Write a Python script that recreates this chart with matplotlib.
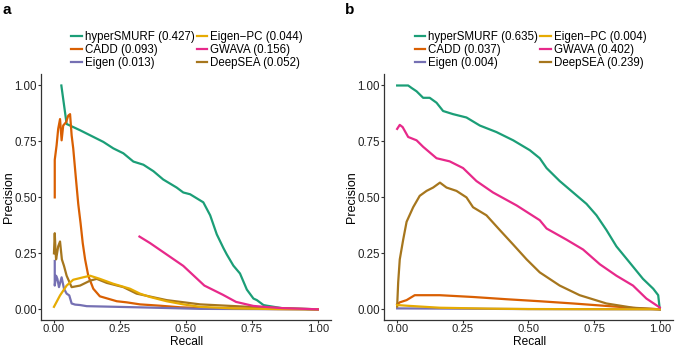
import matplotlib
matplotlib.use("Agg")
import matplotlib.pyplot as plt

# ---------------- data: panel a ----------------
a_hyper_recall = [0.028, 0.048, 0.099, 0.187, 0.225, 0.263, 0.301, 0.339, 0.377, 0.414, 0.465, 0.490, 0.516,
                  0.566, 0.592, 0.617, 0.642, 0.655, 0.680, 0.705, 0.731, 0.756, 0.769, 0.794, 0.807, 0.870, 1.0]
a_hyper_prec = [1.00, 0.828, 0.800, 0.748, 0.719, 0.697, 0.660, 0.646, 0.617, 0.580, 0.544, 0.522, 0.514,
                0.478, 0.420, 0.335, 0.274, 0.245, 0.195, 0.160, 0.088, 0.048, 0.041, 0.019, 0.016, 0.004, 0.0]

a_cadd_recall = [0.003, 0.003, 0.010, 0.016, 0.023, 0.029, 0.035, 0.046, 0.054, 0.061, 0.067, 0.073, 0.083,
                 0.092, 0.101, 0.109, 0.118, 0.130, 0.149, 0.174, 0.238, 0.276, 0.326, 0.402, 0.478, 0.555, 0.75, 1.0]
a_cadd_prec = [0.50, 0.668, 0.733, 0.806, 0.850, 0.755, 0.821, 0.836, 0.865, 0.872, 0.777, 0.719, 0.587,
               0.471, 0.383, 0.296, 0.223, 0.150, 0.092, 0.058, 0.036, 0.031, 0.022, 0.016, 0.009, 0.006, 0.002, 0.0]

a_eigen_recall = [0.003, 0.003, 0.008, 0.013, 0.019, 0.029, 0.038, 0.048, 0.058, 0.067, 0.080, 0.099, 0.124,
                  0.200, 0.35, 0.554, 0.75, 1.0]
a_eigen_prec = [0.216, 0.106, 0.15, 0.136, 0.099, 0.143, 0.092, 0.070, 0.062, 0.026, 0.021, 0.019, 0.014,
                0.012, 0.008, 0.002, 0.001, 0.0]

a_eigenpc_recall = [0.0, 0.023, 0.048, 0.073, 0.111, 0.137, 0.174, 0.225, 0.288, 0.326, 0.364, 0.427, 0.490,
                    0.554, 0.680, 0.85, 1.0]
a_eigenpc_prec = [0.011, 0.062, 0.106, 0.132, 0.143, 0.150, 0.136, 0.114, 0.092, 0.070, 0.055, 0.036, 0.022,
                  0.011, 0.004, 0.001, 0.0]

a_gwava_recall = [0.324, 0.364, 0.490, 0.570, 0.640, 0.690, 0.756, 0.807, 0.870, 1.0]
a_gwava_prec = [0.325, 0.296, 0.194, 0.106, 0.065, 0.033, 0.015, 0.010, 0.005, 0.0]

a_deepsea_recall = [0.0, 0.003, 0.006, 0.008, 0.016, 0.023, 0.030, 0.038, 0.048, 0.067, 0.099, 0.137, 0.162,
                    0.200, 0.263, 0.301, 0.313, 0.427, 0.554, 0.807, 1.0]
a_deepsea_prec = [0.25, 0.34, 0.26, 0.223, 0.281, 0.303, 0.223, 0.194, 0.150, 0.099, 0.106, 0.128, 0.136,
                  0.118, 0.099, 0.077, 0.070, 0.041, 0.022, 0.007, 0.0]

# ---------------- data: panel b ----------------
b_hyper_recall = [0.0, 0.042, 0.055, 0.074, 0.099, 0.124, 0.150, 0.175, 0.213, 0.264, 0.315, 0.378, 0.442,
                  0.505, 0.543, 0.569, 0.619, 0.670, 0.721, 0.759, 0.797, 0.835, 0.886, 0.936, 0.975, 0.994, 1.0]
b_hyper_prec = [1.0, 1.0, 0.989, 0.974, 0.945, 0.945, 0.923, 0.886, 0.872, 0.857, 0.821, 0.792, 0.755,
                0.711, 0.675, 0.631, 0.573, 0.522, 0.471, 0.420, 0.354, 0.281, 0.208, 0.136, 0.092, 0.063, 0.0]

b_cadd_recall = [0.0, 0.010, 0.036, 0.067, 0.162, 0.289, 0.416, 0.543, 0.670, 0.797, 0.924, 1.0]
b_cadd_prec = [0.022, 0.031, 0.041, 0.063, 0.063, 0.055, 0.045, 0.036, 0.026, 0.015, 0.004, 0.0]

b_eigen_recall = [0.0, 0.2, 0.5, 1.0]
b_eigen_prec = [0.004, 0.003, 0.001, 0.0]

b_eigenpc_recall = [0.0, 0.036, 0.162, 0.35, 0.5, 1.0]
b_eigenpc_prec = [0.019, 0.016, 0.007, 0.003, 0.001, 0.0]

b_gwava_recall = [0.0, 0.010, 0.021, 0.042, 0.074, 0.099, 0.150, 0.200, 0.251, 0.302, 0.365, 0.455, 0.543,
                  0.569, 0.645, 0.708, 0.772, 0.835, 0.898, 0.949, 1.0]
b_gwava_prec = [0.806, 0.824, 0.814, 0.770, 0.755, 0.726, 0.675, 0.661, 0.631, 0.573, 0.522, 0.464, 0.398,
                0.361, 0.311, 0.267, 0.201, 0.150, 0.106, 0.048, 0.008]

b_deepsea_recall = [0.0, 0.004, 0.010, 0.023, 0.036, 0.061, 0.086, 0.112, 0.137, 0.163, 0.188, 0.226, 0.264,
                    0.289, 0.340, 0.391, 0.442, 0.493, 0.543, 0.619, 0.695, 0.797, 0.898, 1.0]
b_deepsea_prec = [0.012, 0.121, 0.223, 0.311, 0.391, 0.456, 0.507, 0.529, 0.544, 0.566, 0.544, 0.529, 0.500,
                  0.456, 0.420, 0.354, 0.289, 0.223, 0.165, 0.106, 0.063, 0.026, 0.007, 0.0]

methods = ["hyperSMURF", "CADD", "Eigen", "Eigen\u2212PC", "GWAVA", "DeepSEA"]
a_auprc = ["0.427", "0.093", "0.013", "0.044", "0.156", "0.052"]
b_auprc = ["0.635", "0.037", "0.004", "0.004", "0.402", "0.239"]
colors = ["#1B9E77", "#D95F02", "#7570B3", "#E6AB02", "#E7298A", "#A6761D"]
ticks = [0.0, 0.25, 0.5, 0.75, 1.0]
tick_labels = ["0.00", "0.25", "0.50", "0.75", "1.00"]

panel_a = [(a_hyper_recall, a_hyper_prec), (a_cadd_recall, a_cadd_prec), (a_eigen_recall, a_eigen_prec),
           (a_eigenpc_recall, a_eigenpc_prec), (a_gwava_recall, a_gwava_prec), (a_deepsea_recall, a_deepsea_prec)]
panel_b = [(b_hyper_recall, b_hyper_prec), (b_cadd_recall, b_cadd_prec), (b_eigen_recall, b_eigen_prec),
           (b_eigenpc_recall, b_eigenpc_prec), (b_gwava_recall, b_gwava_prec), (b_deepsea_recall, b_deepsea_prec)]

plt.rcParams['font.family'] = ['Liberation Sans', 'DejaVu Sans']

fig = plt.figure(figsize=(6.75, 3.49), dpi=100)
ax_a = fig.add_axes([0.0604, 0.0817, 0.430, 0.7054])
ax_b = fig.add_axes([0.5689, 0.0817, 0.428, 0.7054])

draw_order = [0, 1, 2, 5, 3, 4]


def draw(ax, series, auprc, legend_x):
    handles = [None] * len(series)
    for i in draw_order:
        x, y = series[i]
        h, = ax.plot(x, y, color=colors[i], lw=1.6, solid_joinstyle='round',
                     label=f"{methods[i]} ({auprc[i]})")
        handles[i] = h
    ax.set_xlim(-0.05, 1.05)
    ax.set_ylim(-0.05, 1.05)
    ax.set_xticks(ticks)
    ax.set_xticklabels(tick_labels)
    ax.set_yticks(ticks)
    ax.set_yticklabels(tick_labels)
    for s in ["top", "right"]:
        ax.spines[s].set_visible(False)
    for s in ["left", "bottom"]:
        ax.spines[s].set_linewidth(0.9)
        ax.spines[s].set_color("#333333")
    ax.tick_params(axis='both', length=2, width=0.8, pad=0.8, labelsize=8.3,
                   color="#333333", labelcolor="#222222")
    ax.tick_params(axis='x', pad=0.4, labelsize=8.1)
    ax.set_xlabel("Recall", fontsize=8.6, va='bottom')
    ax.set_ylabel("Precision", fontsize=9, va='center')
    ax.xaxis.set_label_coords(0.504, -0.1133)
    ax.yaxis.set_label_coords(-0.110, 0.5)
    ax.legend(handles=handles, ncol=2, loc='center', bbox_to_anchor=(legend_x, 1.099),
              frameon=False, fontsize=8.3, handlelength=0.9, handletextpad=0.25,
              columnspacing=0.2, labelspacing=0.12, borderpad=0.0)


draw(ax_a, panel_a, a_auprc, 0.504)
draw(ax_b, panel_b, b_auprc, 0.507)

fig.text(0.004, 0.972, "a", fontsize=11, fontweight='bold', va='center', ha='left')
fig.text(0.511, 0.972, "b", fontsize=11, fontweight='bold', va='center', ha='left')

fig.savefig("out.png", dpi=100)
